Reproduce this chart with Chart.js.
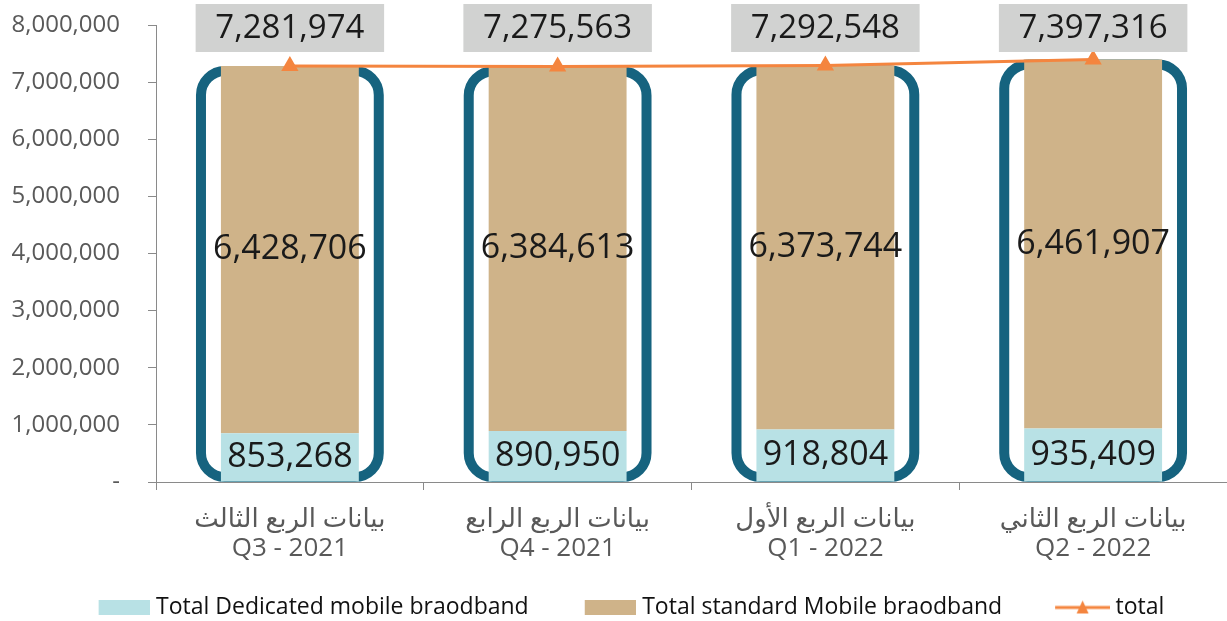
<!DOCTYPE html>
<html>
<head>
<meta charset="utf-8">
<script src="https://cdn.jsdelivr.net/npm/chart.js@4.4.1/dist/chart.umd.min.js"></script>
<style>
html,body{margin:0;padding:0;background:#ffffff;}
#wrap{width:1227px;height:621px;}
</style>
</head>
<body>
<div id="wrap"><canvas id="c" width="1227" height="621"></canvas></div>
<script>
// ---- data ----
const categoriesAr = ['بيانات الربع الثالث', 'بيانات الربع الرابع', 'بيانات الربع الأول', 'بيانات الربع الثاني'];
const quarterLabels = ['Q3 - 2021', 'Q4 - 2021', 'Q1 - 2022', 'Q2 - 2022'];
const dedicated = [853268, 890950, 918804, 935409];
const standard = [6428706, 6384613, 6373744, 6461907];
const totals = [7281974, 7275563, 7292548, 7397316];
const seriesNames = ['Total Dedicated mobile braodband', 'Total standard Mobile braodband', 'total'];
const yMin = 0, yMax = 8000000, yStep = 1000000;

// ---- styles ----
const FONT = "'Open Sans', 'DejaVu Sans', sans-serif";
const C_DED = '#b8e1e5';
const C_STD = '#cfb389';
const C_TOT = '#f4853f';
const C_FRAME = '#16637f';
const C_BOX = '#d1d2d1';
const C_AXIS = '#8a8a8a';
const C_TICK = '#595959';

const fmt = v => v.toLocaleString('en-US');

// legend icons (canvas point styles)
const PW = 102;
function rectIcon(color) {
  const cv = document.createElement('canvas');
  cv.width = PW + 10; cv.height = 15;
  const g = cv.getContext('2d');
  g.fillStyle = color;
  g.fillRect(cv.width - 51, 0, 51, 15);
  return cv;
}
function lineIcon(color) {
  const cv = document.createElement('canvas');
  cv.width = PW + 12; cv.height = 16;
  const g = cv.getContext('2d');
  const x0 = cv.width - 55, x1 = cv.width;
  g.strokeStyle = color; g.lineWidth = 3;
  g.beginPath(); g.moveTo(x0, 8); g.lineTo(x1, 8); g.stroke();
  const cx = (x0 + x1) / 2;
  g.fillStyle = color;
  g.beginPath(); g.moveTo(cx, 1); g.lineTo(cx + 6, 14); g.lineTo(cx - 6, 14); g.closePath(); g.fill();
  return cv;
}
const legendIcons = [rectIcon(C_DED), rectIcon(C_STD), lineIcon(C_TOT)];

// frames behind bars
const framePlugin = {
  id: 'frames',
  afterLayout(chart) {
    if (chart.legend) { chart.legend.left -= 10; chart.legend.right -= 10; }
  },
  beforeDatasetsDraw(chart) {
    const {ctx, scales: {x, y}} = chart;
    const catW = x.width / categoriesAr.length;
    const half = catW * 0.332;
    const lw = 10;
    ctx.save();
    ctx.strokeStyle = C_FRAME;
    ctx.lineWidth = lw;
    totals.forEach((t, i) => {
      const cx = x.getPixelForValue(i);
      const top = y.getPixelForValue(t) + lw / 2;
      const bottom = y.getPixelForValue(0) - lw / 2;
      ctx.beginPath();
      ctx.roundRect(cx - half, top, half * 2, bottom - top, 24);
      ctx.stroke();
    });
    ctx.restore();
  }
};

// value labels
const labelPlugin = {
  id: 'valueLabels',
  afterDatasetsDraw(chart) {
    const {ctx, chartArea, scales: {x}} = chart;
    const catW = x.width / categoriesAr.length;
    const boxHalf = catW * 0.352;
    ctx.save();
    ctx.textAlign = 'center';
    ctx.textBaseline = 'middle';
    totals.forEach((t, i) => {
      const cx = x.getPixelForValue(i);
      const top = chartArea.top - 21;
      ctx.fillStyle = C_BOX;
      ctx.fillRect(cx - boxHalf, top, boxHalf * 2, 48);
      ctx.fillStyle = '#1a1a1a';
      ctx.font = '33px ' + FONT;
      ctx.fillText(fmt(t), cx, top + 25);
    });
    [0, 1].forEach(di => {
      const meta = chart.getDatasetMeta(di);
      const vals = chart.data.datasets[di].data;
      meta.data.forEach((el, i) => {
        const cy = (el.y + el.base) / 2;
        ctx.fillStyle = '#1a1a1a';
        ctx.font = '34px ' + FONT;
        ctx.fillText(fmt(vals[i]), el.x, cy);
      });
    });
    ctx.restore();
  }
};

new Chart(document.getElementById('c'), {
  type: 'bar',
  data: {
    labels: categoriesAr.map((a, i) => [a, quarterLabels[i]]),
    datasets: [
      {
        label: seriesNames[0], data: dedicated, backgroundColor: C_DED,
        stack: 'bars', order: 2, barPercentage: 0.515, categoryPercentage: 1
      },
      {
        label: seriesNames[1], data: standard, backgroundColor: C_STD,
        stack: 'bars', order: 2, barPercentage: 0.515, categoryPercentage: 1
      },
      {
        type: 'line', label: seriesNames[2], data: totals, stack: 'total', order: 0,
        borderColor: C_TOT, backgroundColor: C_TOT, borderWidth: 3,
        pointStyle: 'triangle', pointRadius: 7, pointHoverRadius: 7,
        pointBackgroundColor: C_TOT, pointBorderColor: C_TOT, fill: false, tension: 0,
        clip: false
      }
    ]
  },
  options: {
    responsive: false,
    animation: false,
    devicePixelRatio: 1,
    layout: { autoPadding: false, padding: { top: 25, right: 0, left: 0, bottom: -8 } },
    plugins: {
      tooltip: { enabled: false },
      legend: {
        position: 'bottom',
        labels: {
          usePointStyle: true,
          pointStyleWidth: PW,
          boxHeight: 15,
          padding: 0,
          color: '#111111',
          font: { family: FONT, size: 23, lineHeight: 1 },
          generateLabels: () => seriesNames.map((t, i) => ({
            text: t, pointStyle: legendIcons[i], fillStyle: 'rgba(0,0,0,0)',
            strokeStyle: 'rgba(0,0,0,0)', lineWidth: 0, hidden: false, datasetIndex: i,
            fontColor: '#111111'
          }))
        }
      }
    },
    scales: {
      x: {
        stacked: true,
        afterFit(s) { s.height = 114; s.paddingLeft = 0; s.paddingRight = 0; },
        border: { display: true, color: C_AXIS, width: 1 },
        grid: { display: true, drawOnChartArea: false, drawTicks: true, tickLength: 8, color: C_AXIS, offset: true },
        ticks: { color: C_TICK, font: { family: FONT, size: 26, lineHeight: 1.08 }, padding: 16, maxRotation: 0 }
      },
      y: {
        stacked: true,
        min: yMin, max: yMax,
        afterFit(s) { s.width = 156; s.paddingTop = 0; s.paddingBottom = 0; },
        border: { display: true, color: C_AXIS, width: 1 },
        grid: { display: true, drawOnChartArea: false, drawTicks: true, tickLength: 8, color: C_AXIS },
        ticks: {
          stepSize: yStep, color: C_TICK, padding: 28,
          font: { family: FONT, size: 24 },
          callback: v => v === 0 ? '-' : fmt(v)
        }
      }
    }
  },
  plugins: [framePlugin, labelPlugin]
});
</script>
</body>
</html>
